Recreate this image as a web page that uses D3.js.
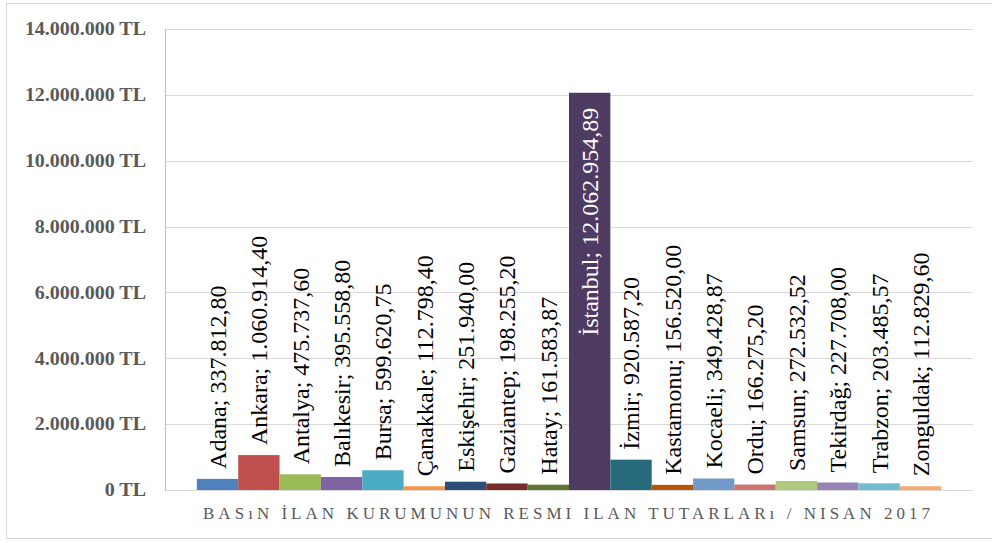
<!DOCTYPE html>
<html>
<head>
<meta charset="utf-8">
<style>
  body { margin: 0; background: #fff; }
  .grid line { stroke: #d9d9d9; stroke-width: 1px; }
  .tick-label { font-family: "Liberation Serif", serif; font-weight: bold; font-size: 18px; fill: #595959; }
  .bar-label { font-family: "Liberation Serif", serif; font-size: 24px; }
  .axis-title { font-family: "Liberation Serif", serif; font-size: 17px; fill: #595959; }
</style>
</head>
<body>
<svg id="chart" width="992" height="543"></svg>

<script src="https://d3js.org/d3.v7.min.js"></script>
<script>
  const cities = ["Adana", "Ankara", "Antalya", "Balıkesir", "Bursa", "Çanakkale", "Eskişehir", "Gaziantep", "Hatay",
    "İstanbul", "İzmir", "Kastamonu", "Kocaeli", "Ordu", "Samsun", "Tekirdağ", "Trabzon", "Zonguldak"];
  const amounts = [337812.80, 1060914.40, 475737.60, 395558.80, 599620.75, 112798.40, 251940.00, 198255.20, 161583.87,
    12062954.89, 920587.20, 156520.00, 349428.87, 166275.20, 272532.52, 227708.00, 203485.57, 112829.60];
  const colors = ["#4f81bd", "#c0504d", "#9bbb59", "#8064a2", "#4bacc6", "#f79646", "#2c4d75", "#772c2a", "#5f7530",
    "#4d3b62", "#276a7c", "#b65708", "#729aca", "#cd7371", "#afc97a", "#9983b5", "#6fbdd1", "#f9ab6b"];
  const yTicks = [0, 2000000, 4000000, 6000000, 8000000, 10000000, 12000000, 14000000];
  const axisTitle = "BASıN İLAN KURUMUNUN RESMI ILAN TUTARLARı / NISAN 2017";

  const tr = d3.formatLocale({ decimal: ",", thousands: ".", grouping: [3], currency: ["", " TL"] });
  const fmtMoney = tr.format(",.2f");
  const fmtTick = tr.format(",.0f");

  const data = cities.map((c, i) => ({ city: c, value: amounts[i], color: colors[i] }));

  const svg = d3.select("#chart");
  const plotLeft = 165, plotRight = 973, plotTop = 29, plotBottom = 490;

  // frame around the whole chart
  svg.append("rect")
    .attr("x", 6.5).attr("y", 3.5)
    .attr("width", 995).attr("height", 535)
    .attr("fill", "none").attr("stroke", "#d9d9d9");

  const x = d3.scaleBand()
    .domain(cities)
    .range([plotLeft, plotRight])
    .paddingInner(0)
    .paddingOuter(0.77);

  const y = d3.scaleLinear()
    .domain([0, 14000000])
    .range([plotBottom, plotTop]);

  svg.append("g")
    .attr("class", "grid")
    .selectAll("line")
    .data(yTicks)
    .join("line")
    .attr("x1", plotLeft).attr("x2", plotRight)
    .attr("y1", d => Math.round(y(d)) + 0.5)
    .attr("y2", d => Math.round(y(d)) + 0.5);

  svg.append("line")
    .attr("x1", plotLeft + 0.5).attr("x2", plotLeft + 0.5)
    .attr("y1", plotTop).attr("y2", plotBottom + 1)
    .attr("stroke", "#bfbfbf");

  // tick labels: widened a little, the original font is broader than Times
  svg.append("g")
    .selectAll("text")
    .data(yTicks)
    .join("text")
    .attr("class", "tick-label")
    .attr("transform", d => `translate(146,${y(d)}) scale(1.11,1)`)
    .attr("dy", "0.35em")
    .attr("text-anchor", "end")
    .text(d => fmtTick(d) + " TL");

  svg.append("g")
    .selectAll("rect")
    .data(data)
    .join("rect")
    .attr("x", d => x(d.city))
    .attr("width", x.bandwidth())
    .attr("y", d => y(d.value))
    .attr("height", d => y(0) - y(d.value))
    .attr("fill", d => d.color);

  const labels = svg.append("g")
    .selectAll("text")
    .data(data)
    .join("text")
    .attr("class", "bar-label")
    .attr("text-anchor", "start")
    .attr("dy", "0.35em")
    .style("fill", "#000")
    .text(d => d.city + "; " + fmtMoney(d.value));

  labels.each(function(d) {
    const len = this.getComputedTextLength();
    const cx = x(d.city) + x.bandwidth() / 2;
    const barTop = y(d.value);
    const el = d3.select(this);
    if (barTop - 8 - len < plotTop) {
      // too tall for outside end, put it inside the bar
      el.attr("text-anchor", "end").style("fill", "#fff")
        .attr("transform", `translate(${cx},${barTop + 15}) rotate(-90)`);
    } else {
      el.attr("transform", `translate(${cx},${barTop - 10}) rotate(-90)`);
    }
  });

  svg.append("text")
    .attr("class", "axis-title")
    .attr("x", 203)
    .attr("y", 519)
    .attr("textLength", 727)
    .attr("lengthAdjust", "spacing")
    .text(axisTitle);
</script>
</body>
</html>
